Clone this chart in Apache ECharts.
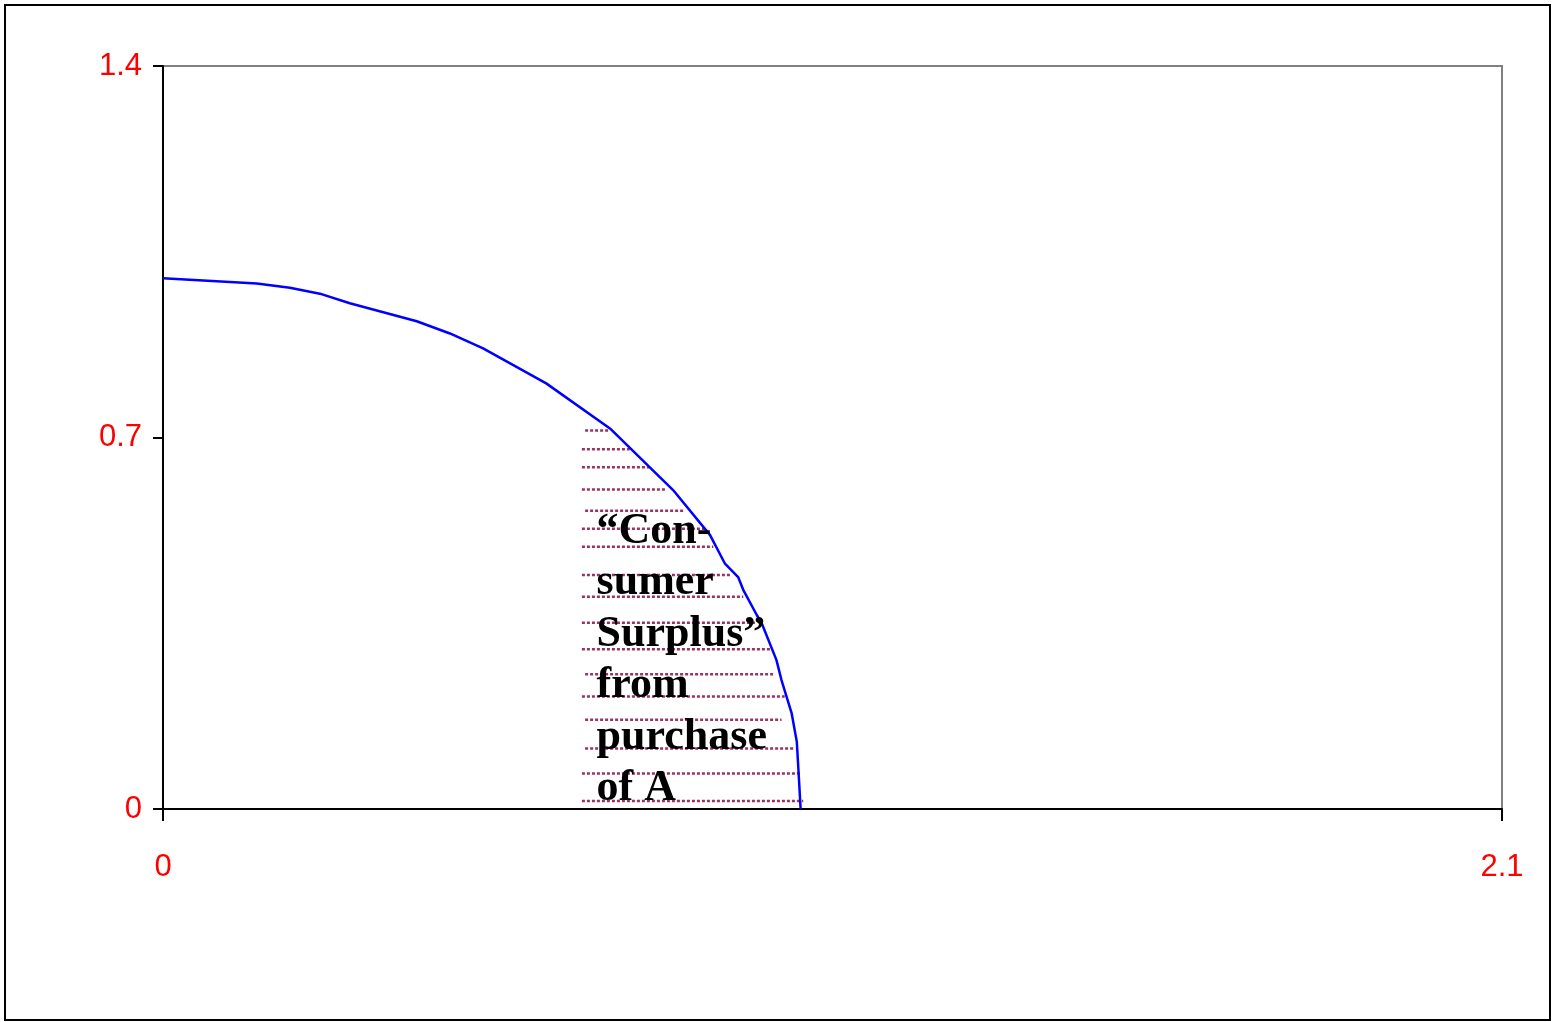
<!DOCTYPE html>
<html>
<head>
<meta charset="utf-8">
<script src="https://cdn.jsdelivr.net/npm/echarts@6/dist/echarts.min.js"></script>
<style>
  html, body { margin: 0; padding: 0; background: #fff; }
  #chart { width: 1553px; height: 1022px; }
</style>
</head>
<body>
<div id="chart"></div>
<script>
// demand curve, points
const curveX = [0, 0.147, 0.199, 0.246, 0.293, 0.398, 0.450, 0.502, 0.601, 0.701,
  0.800, 0.858, 0.881, 0.902, 0.910, 0.931, 0.939, 0.962, 0.970, 0.986, 0.994, 0.996, 1.0];
const curveY = [1.0, 0.990, 0.982, 0.971, 0.953, 0.919, 0.896, 0.868, 0.802, 0.717,
  0.601, 0.516, 0.463, 0.437, 0.413, 0.366, 0.350, 0.281, 0.243, 0.180, 0.127, 0.086, 0];

// dotted hatch lines under the curve
const hatchY = [0.713, 0.678, 0.644, 0.602, 0.562, 0.528, 0.494, 0.441, 0.400,
  0.351, 0.301, 0.254, 0.212, 0.168, 0.114, 0.067, 0.015];
const hatchStart = [0.662, 0.657, 0.657, 0.657, 0.662, 0.657, 0.657, 0.657, 0.657,
  0.657, 0.657, 0.662, 0.657, 0.662, 0.662, 0.657, 0.657];
const hatchEnd = [0.701, 0.732, 0.766, 0.790, 0.816, 0.850, 0.863, 0.892, 0.910,
  0.931, 0.952, 0.960, 0.975, 0.970, 0.991, 0.999, 1.004];

const yTicks = [0, 0.7, 1.4];
const xTicks = [0, 2.1];
const noteLines = ['\u201CCon-', 'sumer', 'Surplus\u201D', 'from', 'purchase', 'of A'];
const notePos = [0.68, 0.572];

const chart = echarts.init(document.getElementById('chart'));

const curveData = curveX.map((x, i) => [x, curveY[i]]);
const hatchData = hatchY.map((y, i) => [hatchStart[i], hatchEnd[i], y]);

chart.setOption({
  animation: false,
  grid: {
    left: 163, top: 66, right: 51, bottom: 213,
    show: true,
    borderColor: '#808080',
    borderWidth: 2
  },
  xAxis: {
    type: 'value',
    min: xTicks[0],
    max: xTicks[xTicks.length - 1],
    interval: xTicks[1] - xTicks[0],
    axisLine: { lineStyle: { color: '#000', width: 2 } },
    axisTick: { length: 12, lineStyle: { color: '#000', width: 2 } },
    axisLabel: {
      color: '#ff0000', fontSize: 31, fontFamily: 'Liberation Sans, Arial',
      margin: 43, showMaxLabel: true, showMinLabel: true
    },
    splitLine: { show: false }
  },
  yAxis: {
    type: 'value',
    min: yTicks[0],
    max: yTicks[yTicks.length - 1],
    interval: yTicks[1] - yTicks[0],
    axisLine: { lineStyle: { color: '#000', width: 2 } },
    axisTick: { length: 10, lineStyle: { color: '#000', width: 2 } },
    axisLabel: {
      color: '#ff0000', fontSize: 31, fontFamily: 'Liberation Sans, Arial',
      margin: 21
    },
    splitLine: { show: false }
  },
  series: [
    {
      type: 'custom',
      data: hatchData,
      z: 1,
      renderItem: function (params, api) {
        const a = api.coord([api.value(0), api.value(2)]);
        const b = api.coord([api.value(1), api.value(2)]);
        return {
          type: 'line',
          shape: { x1: a[0], y1: a[1], x2: b[0], y2: b[1] },
          style: { stroke: '#993366', lineWidth: 2.5, lineDash: [3, 2] }
        };
      }
    },
    {
      type: 'line',
      data: curveData,
      showSymbol: false,
      symbol: 'none',
      z: 3,
      lineStyle: { color: '#0000ff', width: 2.5 }
    }
  ]
});

const p = chart.convertToPixel({ gridIndex: 0 }, notePos);
chart.setOption({
  graphic: [
    {
      type: 'rect',
      shape: { x: 5, y: 5, width: 1545, height: 1015 },
      style: { fill: null, stroke: '#000', lineWidth: 2 },
      silent: true
    },
    {
      type: 'text',
      x: p[0], y: p[1],
      z: 10,
      style: {
        text: noteLines.join('\n'),
        font: 'bold 44px "Liberation Serif", "Times New Roman", serif',
        lineHeight: 51.5,
        fill: '#000',
        textVerticalAlign: 'top'
      }
    }
  ]
});
</script>
</body>
</html>
